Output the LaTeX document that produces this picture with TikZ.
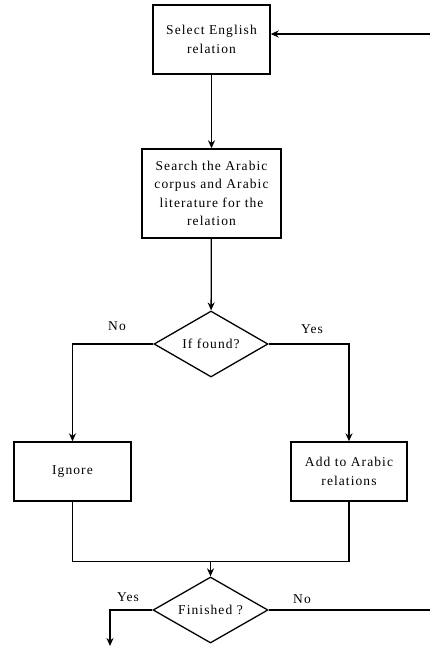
\documentclass[tikz,border=0pt]{standalone}
\usepackage{fontspec}
\setmainfont{Liberation Serif}[LetterSpace=8]
\usetikzlibrary{shapes.geometric,arrows.meta}
\begin{document}
\begin{tikzpicture}[x=1pt,y=-1pt,
  every node/.style={font=\fontsize{13.5}{18.5}\selectfont},
  box/.style={draw,line width=1.4pt,align=center,inner sep=0pt},
  dec/.style={draw,line width=1.3pt,diamond,aspect=1.73,inner sep=0pt},
  conn/.style={line width=1.3pt},
  arr/.style={conn,-{Stealth[length=8pt,width=7pt]}},
  lbl/.style={inner sep=0pt}]
\useasboundingbox (0,0) rectangle (430,646);
\node[box,minimum width=117pt,minimum height=69pt] (sel) at (211.5,39.5) {Select English\\relation};
\node[box,minimum width=139pt,minimum height=89pt] (srch) at (211.5,193.5) {Search the Arabic\\corpus and Arabic\\literature for the\\relation};
\node[dec,minimum width=114pt,minimum height=66pt] (found) at (211,344) {If found?};
\node[box,minimum width=117pt,minimum height=59pt] (ign) at (72.5,471.5) {Ignore};
\node[box,minimum width=116pt,minimum height=59pt] (add) at (349,471.5) {Add to Arabic\\relations};
\node[dec,minimum width=115pt,minimum height=66pt] (fin) at (210.5,610) {Finished ?};
\node[lbl] (no1) at (117,326) {No};
\node[lbl] (yes1) at (312,329) {Yes};
\node[lbl] (yes2) at (128,597) {Yes};
\node[lbl] (no2) at (302,599) {No};
\coordinate (end) at (110,646);
\coordinate (r1) at (433,610);
\coordinate (r2) at (433,34);
\draw[arr] (sel) -- (srch);
\draw[arr] (srch) -- (found);
\draw[arr] (found.west) -| (ign.north);
\draw[arr] (found.east) -| (add.north);
\draw[conn] (ign.south) -- ++(0,60) coordinate (jl) -| (add.south);
\coordinate (j) at (fin.north |- jl);
\draw[arr] (j) -- (fin.north);
\draw[arr] (fin.west) -| (end);
\draw[arr] (fin.east) -- (r1) -- (r2) -- (sel.east |- r2);
\end{tikzpicture}
\end{document}
